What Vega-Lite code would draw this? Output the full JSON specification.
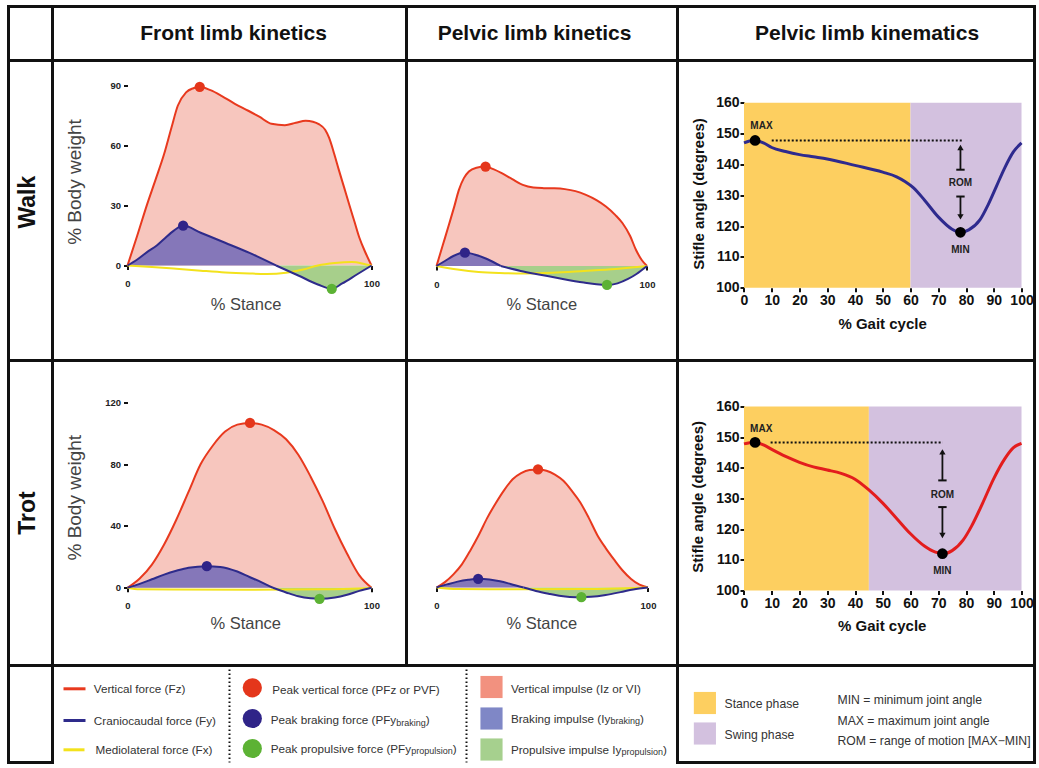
{
"$schema":"https://vega.github.io/schema/vega-lite/v6.json",
"padding":{"left":6.5,"top":4.5,"right":0,"bottom":0},
"background":"white",
"config":{"font":"Liberation Sans","view":{"stroke":"#111","strokeWidth":3},
 "axis":{"grid":false,"domain":false,"labelFont":"Liberation Sans","titleFont":"Liberation Sans","labelFlush":false,"labelOverlap":false,"labelBound":false,"tickColor":"#111","tickWidth":2}},
"datasets":{
"kin":[
{"p":"fw","f":"Fz","s":"z","x":0,"y":0},{"p":"fw","f":"Fz","s":"z","x":4,"y":15},{"p":"fw","f":"Fz","s":"z","x":8,"y":30.5},{"p":"fw","f":"Fz","s":"z","x":11.5,"y":43},{"p":"fw","f":"Fz","s":"z","x":15,"y":55.8},{"p":"fw","f":"Fz","s":"z","x":18,"y":69},{"p":"fw","f":"Fz","s":"z","x":20.6,"y":80},{"p":"fw","f":"Fz","s":"z","x":24,"y":86.7},{"p":"fw","f":"Fz","s":"z","x":27,"y":88.8},{"p":"fw","f":"Fz","s":"z","x":29.6,"y":89.5},{"p":"fw","f":"Fz","s":"z","x":34,"y":87.8},{"p":"fw","f":"Fz","s":"z","x":38.5,"y":85},{"p":"fw","f":"Fz","s":"z","x":44,"y":81},{"p":"fw","f":"Fz","s":"z","x":49.5,"y":77.5},{"p":"fw","f":"Fz","s":"z","x":54,"y":74.5},{"p":"fw","f":"Fz","s":"z","x":59,"y":71},{"p":"fw","f":"Fz","s":"z","x":64.5,"y":70.3},{"p":"fw","f":"Fz","s":"z","x":69,"y":71.5},{"p":"fw","f":"Fz","s":"z","x":73,"y":72.5},{"p":"fw","f":"Fz","s":"z","x":76,"y":72},{"p":"fw","f":"Fz","s":"z","x":78.4,"y":70.8},{"p":"fw","f":"Fz","s":"z","x":81,"y":68},{"p":"fw","f":"Fz","s":"z","x":82.6,"y":64},{"p":"fw","f":"Fz","s":"z","x":84.7,"y":56},{"p":"fw","f":"Fz","s":"z","x":86.7,"y":47.5},{"p":"fw","f":"Fz","s":"z","x":88.8,"y":39},{"p":"fw","f":"Fz","s":"z","x":90.8,"y":30.8},{"p":"fw","f":"Fz","s":"z","x":93,"y":22},{"p":"fw","f":"Fz","s":"z","x":95,"y":14},{"p":"fw","f":"Fz","s":"z","x":97.5,"y":6.5},{"p":"fw","f":"Fz","s":"z","x":100,"y":0},
{"p":"fw","f":"Fy","s":"b","x":0,"y":0},{"p":"fw","f":"Fy","s":"b","x":4,"y":3},{"p":"fw","f":"Fy","s":"b","x":8,"y":6.7},{"p":"fw","f":"Fy","s":"b","x":12,"y":10},{"p":"fw","f":"Fy","s":"b","x":15,"y":13.3},{"p":"fw","f":"Fy","s":"b","x":19,"y":17.5},{"p":"fw","f":"Fy","s":"b","x":22.8,"y":20},{"p":"fw","f":"Fy","s":"b","x":30,"y":16.4},{"p":"fw","f":"Fy","s":"b","x":40,"y":11.4},{"p":"fw","f":"Fy","s":"b","x":50,"y":6.3},{"p":"fw","f":"Fy","s":"b","x":60.9,"y":0},
{"p":"fw","f":"Fy","s":"p","x":60.9,"y":0},{"p":"fw","f":"Fy","s":"p","x":70,"y":-5},{"p":"fw","f":"Fy","s":"p","x":78,"y":-9.5},{"p":"fw","f":"Fy","s":"p","x":83.7,"y":-11.7},{"p":"fw","f":"Fy","s":"p","x":88,"y":-9},{"p":"fw","f":"Fy","s":"p","x":94,"y":-4.5},{"p":"fw","f":"Fy","s":"p","x":100,"y":0},
{"p":"fw","f":"Fx","s":"x","x":0,"y":0},{"p":"fw","f":"Fx","s":"x","x":10,"y":-0.7},{"p":"fw","f":"Fx","s":"x","x":20,"y":-1.6},{"p":"fw","f":"Fx","s":"x","x":30,"y":-2.6},{"p":"fw","f":"Fx","s":"x","x":40,"y":-3.5},{"p":"fw","f":"Fx","s":"x","x":50,"y":-4},{"p":"fw","f":"Fx","s":"x","x":57,"y":-4.2},{"p":"fw","f":"Fx","s":"x","x":65,"y":-3.6},{"p":"fw","f":"Fx","s":"x","x":72,"y":-2},{"p":"fw","f":"Fx","s":"x","x":78,"y":0},{"p":"fw","f":"Fx","s":"x","x":85,"y":1.2},{"p":"fw","f":"Fx","s":"x","x":92,"y":1.7},{"p":"fw","f":"Fx","s":"x","x":97,"y":0.8},{"p":"fw","f":"Fx","s":"x","x":100,"y":0},
{"p":"pw","f":"Fz","s":"z","x":0,"y":0},{"p":"pw","f":"Fz","s":"z","x":3,"y":10.5},{"p":"pw","f":"Fz","s":"z","x":6,"y":21},{"p":"pw","f":"Fz","s":"z","x":8.5,"y":30},{"p":"pw","f":"Fz","s":"z","x":10.6,"y":38},{"p":"pw","f":"Fz","s":"z","x":13,"y":44},{"p":"pw","f":"Fz","s":"z","x":15.4,"y":47.3},{"p":"pw","f":"Fz","s":"z","x":19,"y":49.2},{"p":"pw","f":"Fz","s":"z","x":23.3,"y":49.8},{"p":"pw","f":"Fz","s":"z","x":27,"y":48.5},{"p":"pw","f":"Fz","s":"z","x":31,"y":46.5},{"p":"pw","f":"Fz","s":"z","x":36,"y":43.5},{"p":"pw","f":"Fz","s":"z","x":41,"y":40.6},{"p":"pw","f":"Fz","s":"z","x":46,"y":39.3},{"p":"pw","f":"Fz","s":"z","x":51,"y":39},{"p":"pw","f":"Fz","s":"z","x":56,"y":38.9},{"p":"pw","f":"Fz","s":"z","x":61,"y":38.5},{"p":"pw","f":"Fz","s":"z","x":66,"y":37.5},{"p":"pw","f":"Fz","s":"z","x":71,"y":35.6},{"p":"pw","f":"Fz","s":"z","x":76,"y":33},{"p":"pw","f":"Fz","s":"z","x":80.5,"y":29.8},{"p":"pw","f":"Fz","s":"z","x":85,"y":25.5},{"p":"pw","f":"Fz","s":"z","x":88.4,"y":21.4},{"p":"pw","f":"Fz","s":"z","x":92,"y":15},{"p":"pw","f":"Fz","s":"z","x":94.8,"y":8},{"p":"pw","f":"Fz","s":"z","x":97.5,"y":3},{"p":"pw","f":"Fz","s":"z","x":100,"y":0},
{"p":"pw","f":"Fy","s":"b","x":0,"y":0},{"p":"pw","f":"Fy","s":"b","x":4,"y":2.5},{"p":"pw","f":"Fy","s":"b","x":8,"y":5},{"p":"pw","f":"Fy","s":"b","x":13.5,"y":6.7},{"p":"pw","f":"Fy","s":"b","x":18,"y":5.8},{"p":"pw","f":"Fy","s":"b","x":24,"y":3.5},{"p":"pw","f":"Fy","s":"b","x":30.5,"y":0},
{"p":"pw","f":"Fy","s":"p","x":30.5,"y":0},{"p":"pw","f":"Fy","s":"p","x":40,"y":-2.5},{"p":"pw","f":"Fy","s":"p","x":50,"y":-4.5},{"p":"pw","f":"Fy","s":"p","x":60,"y":-6.5},{"p":"pw","f":"Fy","s":"p","x":70,"y":-8.3},{"p":"pw","f":"Fy","s":"p","x":76,"y":-9.2},{"p":"pw","f":"Fy","s":"p","x":81,"y":-9.5},{"p":"pw","f":"Fy","s":"p","x":86,"y":-8.7},{"p":"pw","f":"Fy","s":"p","x":91,"y":-6.5},{"p":"pw","f":"Fy","s":"p","x":95,"y":-4},{"p":"pw","f":"Fy","s":"p","x":100,"y":0},
{"p":"pw","f":"Fx","s":"x","x":0,"y":0},{"p":"pw","f":"Fx","s":"x","x":10,"y":-1.8},{"p":"pw","f":"Fx","s":"x","x":20,"y":-3},{"p":"pw","f":"Fx","s":"x","x":30,"y":-3.5},{"p":"pw","f":"Fx","s":"x","x":42,"y":-3.7},{"p":"pw","f":"Fx","s":"x","x":55,"y":-3.4},{"p":"pw","f":"Fx","s":"x","x":70,"y":-2.5},{"p":"pw","f":"Fx","s":"x","x":85,"y":-1.5},{"p":"pw","f":"Fx","s":"x","x":100,"y":0},
{"p":"ft","f":"Fz","s":"z","x":0,"y":0},{"p":"ft","f":"Fz","s":"z","x":5,"y":6},{"p":"ft","f":"Fz","s":"z","x":10,"y":15},{"p":"ft","f":"Fz","s":"z","x":15,"y":28},{"p":"ft","f":"Fz","s":"z","x":20,"y":44},{"p":"ft","f":"Fz","s":"z","x":25,"y":62},{"p":"ft","f":"Fz","s":"z","x":30,"y":80},{"p":"ft","f":"Fz","s":"z","x":35,"y":92},{"p":"ft","f":"Fz","s":"z","x":40,"y":101},{"p":"ft","f":"Fz","s":"z","x":45,"y":105.5},{"p":"ft","f":"Fz","s":"z","x":50,"y":106.6},{"p":"ft","f":"Fz","s":"z","x":55,"y":105.5},{"p":"ft","f":"Fz","s":"z","x":60,"y":102},{"p":"ft","f":"Fz","s":"z","x":65,"y":96},{"p":"ft","f":"Fz","s":"z","x":70,"y":86},{"p":"ft","f":"Fz","s":"z","x":75,"y":72},{"p":"ft","f":"Fz","s":"z","x":80,"y":56},{"p":"ft","f":"Fz","s":"z","x":85,"y":38},{"p":"ft","f":"Fz","s":"z","x":90,"y":22},{"p":"ft","f":"Fz","s":"z","x":95,"y":8},{"p":"ft","f":"Fz","s":"z","x":100,"y":0},
{"p":"ft","f":"Fy","s":"b","x":0,"y":0},{"p":"ft","f":"Fy","s":"b","x":5,"y":2.5},{"p":"ft","f":"Fy","s":"b","x":10,"y":5.5},{"p":"ft","f":"Fy","s":"b","x":15,"y":8.5},{"p":"ft","f":"Fy","s":"b","x":20,"y":11},{"p":"ft","f":"Fy","s":"b","x":25,"y":13},{"p":"ft","f":"Fy","s":"b","x":32.5,"y":14},{"p":"ft","f":"Fy","s":"b","x":38,"y":13.5},{"p":"ft","f":"Fy","s":"b","x":45,"y":10.5},{"p":"ft","f":"Fy","s":"b","x":50,"y":7},{"p":"ft","f":"Fy","s":"b","x":55,"y":3.5},{"p":"ft","f":"Fy","s":"b","x":59.6,"y":0},
{"p":"ft","f":"Fy","s":"p","x":59.6,"y":0},{"p":"ft","f":"Fy","s":"p","x":65,"y":-3},{"p":"ft","f":"Fy","s":"p","x":70,"y":-5.5},{"p":"ft","f":"Fy","s":"p","x":75,"y":-6.8},{"p":"ft","f":"Fy","s":"p","x":78.7,"y":-7.1},{"p":"ft","f":"Fy","s":"p","x":85,"y":-6.3},{"p":"ft","f":"Fy","s":"p","x":90,"y":-4.5},{"p":"ft","f":"Fy","s":"p","x":95,"y":-2},{"p":"ft","f":"Fy","s":"p","x":100,"y":0},
{"p":"ft","f":"Fx","s":"x","x":0,"y":0},{"p":"ft","f":"Fx","s":"x","x":5,"y":-1},{"p":"ft","f":"Fx","s":"x","x":50,"y":-1.2},{"p":"ft","f":"Fx","s":"x","x":80,"y":-1},{"p":"ft","f":"Fx","s":"x","x":95,"y":-0.5},{"p":"ft","f":"Fx","s":"x","x":100,"y":0},
{"p":"pt","f":"Fz","s":"z","x":0,"y":0},{"p":"pt","f":"Fz","s":"z","x":4,"y":3.5},{"p":"pt","f":"Fz","s":"z","x":8,"y":8.5},{"p":"pt","f":"Fz","s":"z","x":12,"y":15},{"p":"pt","f":"Fz","s":"z","x":16,"y":24},{"p":"pt","f":"Fz","s":"z","x":20,"y":34},{"p":"pt","f":"Fz","s":"z","x":24,"y":45},{"p":"pt","f":"Fz","s":"z","x":28,"y":54.5},{"p":"pt","f":"Fz","s":"z","x":32,"y":63},{"p":"pt","f":"Fz","s":"z","x":36,"y":70},{"p":"pt","f":"Fz","s":"z","x":40,"y":74},{"p":"pt","f":"Fz","s":"z","x":44,"y":76},{"p":"pt","f":"Fz","s":"z","x":48,"y":76.3},{"p":"pt","f":"Fz","s":"z","x":52,"y":75.5},{"p":"pt","f":"Fz","s":"z","x":56,"y":73},{"p":"pt","f":"Fz","s":"z","x":60,"y":69},{"p":"pt","f":"Fz","s":"z","x":64,"y":62.5},{"p":"pt","f":"Fz","s":"z","x":68,"y":55},{"p":"pt","f":"Fz","s":"z","x":72,"y":45},{"p":"pt","f":"Fz","s":"z","x":76,"y":34},{"p":"pt","f":"Fz","s":"z","x":80,"y":25.5},{"p":"pt","f":"Fz","s":"z","x":84,"y":18},{"p":"pt","f":"Fz","s":"z","x":88,"y":11},{"p":"pt","f":"Fz","s":"z","x":92,"y":5.5},{"p":"pt","f":"Fz","s":"z","x":96,"y":1.8},{"p":"pt","f":"Fz","s":"z","x":100,"y":0},
{"p":"pt","f":"Fy","s":"b","x":0,"y":0},{"p":"pt","f":"Fy","s":"b","x":5,"y":2},{"p":"pt","f":"Fy","s":"b","x":10,"y":3.8},{"p":"pt","f":"Fy","s":"b","x":15,"y":5},{"p":"pt","f":"Fy","s":"b","x":19.7,"y":5.6},{"p":"pt","f":"Fy","s":"b","x":25,"y":5.2},{"p":"pt","f":"Fy","s":"b","x":30,"y":4},{"p":"pt","f":"Fy","s":"b","x":35,"y":2.3},{"p":"pt","f":"Fy","s":"b","x":41.2,"y":0},
{"p":"pt","f":"Fy","s":"p","x":41.2,"y":0},{"p":"pt","f":"Fy","s":"p","x":47,"y":-2.2},{"p":"pt","f":"Fy","s":"p","x":53,"y":-4},{"p":"pt","f":"Fy","s":"p","x":58,"y":-5.3},{"p":"pt","f":"Fy","s":"p","x":63,"y":-6.1},{"p":"pt","f":"Fy","s":"p","x":68.5,"y":-6.3},{"p":"pt","f":"Fy","s":"p","x":73,"y":-6},{"p":"pt","f":"Fy","s":"p","x":80,"y":-4.8},{"p":"pt","f":"Fy","s":"p","x":87,"y":-3},{"p":"pt","f":"Fy","s":"p","x":93,"y":-1.3},{"p":"pt","f":"Fy","s":"p","x":100,"y":0},
{"p":"pt","f":"Fx","s":"x","x":0,"y":0},{"p":"pt","f":"Fx","s":"x","x":10,"y":-1},{"p":"pt","f":"Fx","s":"x","x":40,"y":-1.2},{"p":"pt","f":"Fx","s":"x","x":70,"y":-1},{"p":"pt","f":"Fx","s":"x","x":90,"y":-0.5},{"p":"pt","f":"Fx","s":"x","x":100,"y":0}
],
"peaks":[
{"p":"fw","k":"z","x":29.6,"y":89.5},{"p":"fw","k":"b","x":22.8,"y":20},{"p":"fw","k":"p","x":83.7,"y":-11.7},
{"p":"pw","k":"z","x":23.3,"y":49.8},{"p":"pw","k":"b","x":13.5,"y":6.7},{"p":"pw","k":"p","x":81,"y":-9.5},
{"p":"ft","k":"z","x":50.2,"y":106.6},{"p":"ft","k":"b","x":32.5,"y":14},{"p":"ft","k":"p","x":78.7,"y":-7.1},
{"p":"pt","k":"z","x":48,"y":76.3},{"p":"pt","k":"b","x":19.7,"y":5.6},{"p":"pt","k":"p","x":68.5,"y":-6.3}
],
"kc":[
{"g":"w","x":0,"y":147},{"g":"w","x":2,"y":147.6},{"g":"w","x":4,"y":147.8},{"g":"w","x":7,"y":147},{"g":"w","x":10,"y":145.5},{"g":"w","x":15,"y":144.2},{"g":"w","x":20,"y":143.2},{"g":"w","x":25,"y":142.5},{"g":"w","x":30,"y":141.8},{"g":"w","x":40,"y":139.7},{"g":"w","x":50,"y":137.5},{"g":"w","x":55,"y":136},{"g":"w","x":58,"y":134.5},{"g":"w","x":61,"y":132.5},{"g":"w","x":65,"y":128.5},{"g":"w","x":70,"y":123},{"g":"w","x":75,"y":119},{"g":"w","x":78,"y":118},{"g":"w","x":81,"y":118.8},{"g":"w","x":85,"y":122},{"g":"w","x":88,"y":127},{"g":"w","x":91,"y":133},{"g":"w","x":94,"y":139},{"g":"w","x":97,"y":144},{"g":"w","x":100,"y":147},
{"g":"t","x":0,"y":147.8},{"g":"t","x":2,"y":148.2},{"g":"t","x":4,"y":148.3},{"g":"t","x":7,"y":147.5},{"g":"t","x":10,"y":146},{"g":"t","x":15,"y":143.7},{"g":"t","x":20,"y":141.8},{"g":"t","x":25,"y":140.3},{"g":"t","x":30,"y":139.3},{"g":"t","x":35,"y":138.2},{"g":"t","x":40,"y":136.3},{"g":"t","x":45,"y":132.8},{"g":"t","x":50,"y":128.5},{"g":"t","x":55,"y":123.5},{"g":"t","x":60,"y":118.5},{"g":"t","x":65,"y":114.5},{"g":"t","x":69,"y":112.5},{"g":"t","x":72,"y":112},{"g":"t","x":75,"y":113},{"g":"t","x":79,"y":116.5},{"g":"t","x":82,"y":121},{"g":"t","x":86,"y":128.5},{"g":"t","x":90,"y":136.5},{"g":"t","x":94,"y":143},{"g":"t","x":97,"y":146.5},{"g":"t","x":100,"y":148}
],
"ann":[
{"g":"w","k":"dot","x":10,"x2":79,"y":147.8},{"g":"w","k":"vl","x":78,"y":145.5,"y2":138.3},{"g":"w","k":"vl","x":78,"y":129.6,"y2":123},{"g":"w","k":"triangle-up","x":78,"y":145.5},{"g":"w","k":"triangle-down","x":78,"y":123},{"g":"w","k":"bar","x":78,"y":138.3},{"g":"w","k":"bar","x":78,"y":129.6},{"g":"w","k":"pt","x":4,"y":147.8},{"g":"w","k":"pt","x":78,"y":118},{"g":"w","k":"txt","x":6.3,"y":152.6,"t":"MAX"},{"g":"w","k":"txt","x":78,"y":112.3,"t":"MIN"},{"g":"w","k":"txt","x":78,"y":133.9,"t":"ROM"},
{"g":"t","k":"dot","x":9.6,"x2":71.6,"y":148.3},{"g":"t","k":"vl","x":71.5,"y":145.2,"y2":135.9},{"g":"t","k":"vl","x":71.5,"y":127.2,"y2":117.9},{"g":"t","k":"triangle-up","x":71.5,"y":145.2},{"g":"t","k":"triangle-down","x":71.5,"y":117.9},{"g":"t","k":"bar","x":71.5,"y":135.9},{"g":"t","k":"bar","x":71.5,"y":127.2},{"g":"t","k":"pt","x":4,"y":148.3},{"g":"t","k":"pt","x":71.5,"y":112},{"g":"t","k":"txt","x":6.2,"y":152.7,"t":"MAX"},{"g":"t","k":"txt","x":71.5,"y":106.5,"t":"MIN"},{"g":"t","k":"txt","x":71.5,"y":131.2,"t":"ROM"}
],
"phase":[{"g":"w","ph":"st","x":0,"x2":60},{"g":"w","ph":"sw","x":60,"x2":100},{"g":"t","ph":"st","x":0,"x2":45},{"g":"t","ph":"sw","x":45,"x2":100}]
},
"resolve":{"scale":{"color":"independent","fill":"independent","shape":"independent"}},
"columns":4,
"spacing":0,
"bounds":"flush",
"align":"each",
"concat":[
 {"width":44,"height":54,"data":{"values":[{"t":""}]},"mark":{"type":"text"},"encoding":{"text":{"field":"t"},"x":{"datum":0.5,"type":"quantitative","scale":{"domain":[0,1]},"axis":null},"y":{"datum":0.5,"type":"quantitative","scale":{"domain":[0,1]},"axis":null}}},
 {"width":354,"height":54,"data":{"values":[{"t":"Front limb kinetics"}]},"mark":{"type":"text","fontSize":21,"fontWeight":"bold","color":"#111","dx":4,"dy":0,"baseline":"middle"},"encoding":{"text":{"field":"t"},"x":{"datum":0.5,"type":"quantitative","scale":{"domain":[0,1]},"axis":null},"y":{"datum":0.5,"type":"quantitative","scale":{"domain":[0,1]},"axis":null}}},
 {"width":271,"height":54,"data":{"values":[{"t":"Pelvic limb kinetics"}]},"mark":{"type":"text","fontSize":21,"fontWeight":"bold","color":"#111","dx":-7.5,"dy":0,"baseline":"middle"},"encoding":{"text":{"field":"t"},"x":{"datum":0.5,"type":"quantitative","scale":{"domain":[0,1]},"axis":null},"y":{"datum":0.5,"type":"quantitative","scale":{"domain":[0,1]},"axis":null}}},
 {"width":357,"height":54,"data":{"values":[{"t":"Pelvic limb kinematics"}]},"mark":{"type":"text","fontSize":21,"fontWeight":"bold","color":"#111","dx":11,"dy":0,"baseline":"middle"},"encoding":{"text":{"field":"t"},"x":{"datum":0.5,"type":"quantitative","scale":{"domain":[0,1]},"axis":null},"y":{"datum":0.5,"type":"quantitative","scale":{"domain":[0,1]},"axis":null}}},
 {"width":44,"height":300,"data":{"values":[{"t":"Walk"}]},"mark":{"type":"text","fontSize":23,"fontWeight":"bold","color":"#111","angle":270,"dx":8.3,"dy":-3,"baseline":"middle"},"encoding":{"text":{"field":"t"},"x":{"datum":0.5,"type":"quantitative","scale":{"domain":[0,1]},"axis":null},"y":{"datum":0.5,"type":"quantitative","scale":{"domain":[0,1]},"axis":null}}},
 {"width":354,"height":300,"layer":[
  {"data":{"name":"kin"},"transform":[{"filter":"datum.p=='fw' && datum.f=='Fz'"}],"mark":{"type":"area","interpolate":"monotone","color":"#F7C6BE"},
   "encoding":{"x":{"field":"x","type":"quantitative","scale":{"domain":[-30.74,114.34],"nice":false,"zero":false},"axis":{"values":[0,100],"tickCount":2,"labelOverlap":false,"tickSize":4,"labelFontSize":9.5,"labelFontWeight":"bold","labelColor":"#222","labelPadding":9,"offset":-95,"title":"% Stance","titleFontSize":16.5,"titleFontWeight":"normal","titleColor":"#444","titleX":193,"titleY":39,"titleBaseline":"middle"}},
   "y":{"field":"y","type":"quantitative","stack":null,"scale":{"domain":[-47.58,102.67],"nice":false,"zero":false},"axis":{"values":[0,30,60,90],"labelOverlap":false,"tickSize":4,"labelFontSize":9.5,"labelFontWeight":"bold","labelColor":"#222","labelPadding":3,"offset":-75,"title":"% Body weight","titleFontSize":19,"titleFontWeight":"normal","titleColor":"#444","titleX":-53,"titleY":121,"titleBaseline":"middle"}},
   "y2":{"datum":0}}},
  {"data":{"name":"kin"},"transform":[{"filter":"datum.p=='fw' && datum.f=='Fy'"}],"mark":{"type":"area","interpolate":"monotone"},
   "encoding":{"x":{"field":"x","type":"quantitative"},"y":{"field":"y","type":"quantitative","stack":null},"y2":{"datum":0},"fill":{"field":"s","type":"nominal","scale":{"domain":["b","p"],"range":["#8577B9","#A7CF8B"]},"legend":null}}},
  {"data":{"name":"kin"},"transform":[{"filter":"datum.p=='fw' && datum.f=='Fz'"}],"mark":{"type":"line","interpolate":"monotone","color":"#E8391E","strokeWidth":2},
   "encoding":{"x":{"field":"x","type":"quantitative"},"y":{"field":"y","type":"quantitative"}}},
  {"data":{"name":"kin"},"transform":[{"filter":"datum.p=='fw' && datum.f=='Fx'"}],"mark":{"type":"line","interpolate":"monotone","color":"#F3E21C","strokeWidth":2},
   "encoding":{"x":{"field":"x","type":"quantitative"},"y":{"field":"y","type":"quantitative"}}},
  {"data":{"name":"kin"},"transform":[{"filter":"datum.p=='fw' && datum.f=='Fy'"}],"mark":{"type":"line","interpolate":"monotone","color":"#2E2B8B","strokeWidth":2},
   "encoding":{"x":{"field":"x","type":"quantitative"},"y":{"field":"y","type":"quantitative"},"detail":{"field":"s"}}},
  {"mark":{"type":"rule","color":"#111","strokeWidth":2.5},"encoding":{"x":{"datum":0},"x2":{"datum":100},"y":{"datum":0}}},
  {"mark":{"type":"rule","color":"#111","strokeWidth":2},"encoding":{"x":{"datum":0},"y":{"datum":0},"y2":{"datum":90}}},
  {"data":{"name":"peaks"},"transform":[{"filter":"datum.p=='fw'"}],"mark":{"type":"point","filled":true,"opacity":1,"size":105},
   "encoding":{"x":{"field":"x","type":"quantitative"},"y":{"field":"y","type":"quantitative"},"color":{"field":"k","type":"nominal","scale":{"domain":["z","b","p"],"range":["#E4361B","#2F2488","#5CB234"]},"legend":null}}}
 ]},
 {"width":271,"height":300,"layer":[
  {"data":{"name":"kin"},"transform":[{"filter":"datum.p=='pw' && datum.f=='Fz'"}],"mark":{"type":"area","interpolate":"monotone","color":"#F7C6BE"},
   "encoding":{"x":{"field":"x","type":"quantitative","scale":{"domain":[-14.25,114.49],"nice":false,"zero":false},"axis":{"values":[0,100],"tickCount":2,"labelOverlap":false,"tickSize":4,"labelFontSize":9.5,"labelFontWeight":"bold","labelColor":"#222","labelPadding":9,"offset":-94.5,"title":"% Stance","titleFontSize":16.5,"titleFontWeight":"normal","titleColor":"#444","titleX":134.8,"titleY":38.5,"titleBaseline":"middle"}},
   "y":{"field":"y","type":"quantitative","stack":null,"scale":{"domain":[-47.33,102.92],"nice":false,"zero":false},"axis":null},
   "y2":{"datum":0}}},
  {"data":{"name":"kin"},"transform":[{"filter":"datum.p=='pw' && datum.f=='Fy'"}],"mark":{"type":"area","interpolate":"monotone"},
   "encoding":{"x":{"field":"x","type":"quantitative"},"y":{"field":"y","type":"quantitative","stack":null},"y2":{"datum":0},"fill":{"field":"s","type":"nominal","scale":{"domain":["b","p"],"range":["#8577B9","#A7CF8B"]},"legend":null}}},
  {"data":{"name":"kin"},"transform":[{"filter":"datum.p=='pw' && datum.f=='Fz'"}],"mark":{"type":"line","interpolate":"monotone","color":"#E8391E","strokeWidth":2},
   "encoding":{"x":{"field":"x","type":"quantitative"},"y":{"field":"y","type":"quantitative"}}},
  {"data":{"name":"kin"},"transform":[{"filter":"datum.p=='pw' && datum.f=='Fx'"}],"mark":{"type":"line","interpolate":"monotone","color":"#F3E21C","strokeWidth":2},
   "encoding":{"x":{"field":"x","type":"quantitative"},"y":{"field":"y","type":"quantitative"}}},
  {"data":{"name":"kin"},"transform":[{"filter":"datum.p=='pw' && datum.f=='Fy'"}],"mark":{"type":"line","interpolate":"monotone","color":"#2E2B8B","strokeWidth":2},
   "encoding":{"x":{"field":"x","type":"quantitative"},"y":{"field":"y","type":"quantitative"},"detail":{"field":"s"}}},
  {"mark":{"type":"rule","color":"#111","strokeWidth":2.5},"encoding":{"x":{"datum":0},"x2":{"datum":100},"y":{"datum":0}}},
  {"data":{"name":"peaks"},"transform":[{"filter":"datum.p=='pw'"}],"mark":{"type":"point","filled":true,"opacity":1,"size":105},
   "encoding":{"x":{"field":"x","type":"quantitative"},"y":{"field":"y","type":"quantitative"},"color":{"field":"k","type":"nominal","scale":{"domain":["z","b","p"],"range":["#E4361B","#2F2488","#5CB234"]},"legend":null}}}
 ]},
 {"width":357,"height":300,"layer":[
  {"data":{"name":"phase"},"transform":[{"filter":"datum.g=='w'"}],"mark":{"type":"rect"},
   "encoding":{"x":{"field":"x","type":"quantitative","scale":{"domain":[-23.96,104.68],"nice":false,"zero":false},"axis":{"values":[0,10,20,30,40,50,60,70,80,90,100],"tickCount":11,"labelOverlap":false,"labelSeparation":0,"zindex":1,"tickSize":4,"labelFontSize":14,"labelFontWeight":"bold","labelColor":"#111","labelPadding":2,"offset":-72.7,"title":"% Gait cycle","titleFontSize":15,"titleFontWeight":"bold","titleColor":"#111","titleX":204.6,"titleY":35.4,"titleBaseline":"middle"}},
   "x2":{"field":"x2"},
   "y":{"datum":100,"type":"quantitative","scale":{"domain":[76.42,173.72],"nice":false,"zero":false},"axis":{"values":[100,110,120,130,140,150,160],"tickCount":7,"labelOverlap":false,"tickSize":4,"labelFontSize":14,"labelFontWeight":"bold","labelColor":"#111","labelPadding":1,"offset":-66.5,"title":"Stifle angle (degrees)","titleFontSize":15,"titleFontWeight":"bold","titleColor":"#111","titleX":-45.5,"titleY":133,"titleBaseline":"middle"}},
   "y2":{"datum":160},
   "color":{"field":"ph","type":"nominal","scale":{"domain":["st","sw"],"range":["#FDCF60","#D3C1DF"]},"legend":null}}},
  {"data":{"name":"kc"},"transform":[{"filter":"datum.g=='w'"}],"mark":{"type":"line","interpolate":"monotone","color":"#2E2A8E","strokeWidth":3},
   "encoding":{"x":{"field":"x","type":"quantitative"},"y":{"field":"y","type":"quantitative"}}},
  {"mark":{"type":"rule","color":"#111","strokeWidth":2.5},"encoding":{"x":{"datum":0},"y":{"datum":100},"y2":{"datum":160}}},
  {"mark":{"type":"rule","color":"#111","strokeWidth":2.5},"encoding":{"x":{"datum":0},"x2":{"datum":100},"y":{"datum":100}}},
  {"data":{"name":"ann"},"transform":[{"filter":"datum.g=='w' && datum.k=='dot'"}],"mark":{"type":"rule","color":"#111","strokeWidth":2,"strokeDash":[2,2]},
   "encoding":{"x":{"field":"x","type":"quantitative"},"x2":{"field":"x2"},"y":{"field":"y","type":"quantitative"}}},
  {"data":{"name":"ann"},"transform":[{"filter":"datum.g=='w' && datum.k=='vl'"}],"mark":{"type":"rule","color":"#111","strokeWidth":1.8},
   "encoding":{"x":{"field":"x","type":"quantitative"},"y":{"field":"y","type":"quantitative"},"y2":{"field":"y2"}}},
  {"data":{"name":"ann"},"transform":[{"filter":"datum.g=='w' && (datum.k=='triangle-up' || datum.k=='triangle-down')"}],"mark":{"type":"point","filled":true,"opacity":1,"size":40,"color":"#111"},
   "encoding":{"x":{"field":"x","type":"quantitative"},"y":{"field":"y","type":"quantitative"},"shape":{"field":"k","type":"nominal","scale":{"domain":["triangle-up","triangle-down"],"range":["triangle-up","triangle-down"]},"legend":null}}},
  {"data":{"name":"ann"},"transform":[{"filter":"datum.g=='w' && datum.k=='bar'"}],"mark":{"type":"point","shape":"stroke","filled":false,"opacity":1,"size":70,"color":"#111","strokeWidth":2},
   "encoding":{"x":{"field":"x","type":"quantitative"},"y":{"field":"y","type":"quantitative"}}},
  {"data":{"name":"ann"},"transform":[{"filter":"datum.g=='w' && datum.k=='pt'"}],"mark":{"type":"point","filled":true,"opacity":1,"size":115,"color":"#000"},
   "encoding":{"x":{"field":"x","type":"quantitative"},"y":{"field":"y","type":"quantitative"}}},
  {"data":{"name":"ann"},"transform":[{"filter":"datum.g=='w' && datum.k=='txt'"}],"mark":{"type":"text","fontSize":10,"fontWeight":"bold","color":"#222","baseline":"middle"},
   "encoding":{"x":{"field":"x","type":"quantitative"},"y":{"field":"y","type":"quantitative"},"text":{"field":"t"}}}
 ]},
 {"width":44,"height":305,"data":{"values":[{"t":"Trot"}]},"mark":{"type":"text","fontSize":23,"fontWeight":"bold","color":"#111","angle":270,"dx":0,"dy":-3,"baseline":"middle"},"encoding":{"text":{"field":"t"},"x":{"datum":0.5,"type":"quantitative","scale":{"domain":[0,1]},"axis":null},"y":{"datum":0.5,"type":"quantitative","scale":{"domain":[0,1]},"axis":null}}},
 {"width":354,"height":305,"layer":[
  {"data":{"name":"kin"},"transform":[{"filter":"datum.p=='ft' && datum.f=='Fz'"}],"mark":{"type":"area","interpolate":"monotone","color":"#F7C6BE"},
   "encoding":{"x":{"field":"x","type":"quantitative","scale":{"domain":[-30.74,114.34],"nice":false,"zero":false},"axis":{"values":[0,100],"tickCount":2,"labelOverlap":false,"tickSize":4,"labelFontSize":9.5,"labelFontWeight":"bold","labelColor":"#222","labelPadding":9,"offset":-77.7,"title":"% Stance","titleFontSize":16.5,"titleFontWeight":"normal","titleColor":"#444","titleX":192.7,"titleY":36,"titleBaseline":"middle"}},
   "y":{"field":"y","type":"quantitative","stack":null,"scale":{"domain":[-50.24,146.96],"nice":false,"zero":false},"axis":{"values":[0,40,80,120],"labelOverlap":false,"tickSize":4,"labelFontSize":9.5,"labelFontWeight":"bold","labelColor":"#222","labelPadding":3,"offset":-75,"title":"% Body weight","titleFontSize":19,"titleFontWeight":"normal","titleColor":"#444","titleX":-53,"titleY":136.7,"titleBaseline":"middle"}},
   "y2":{"datum":0}}},
  {"data":{"name":"kin"},"transform":[{"filter":"datum.p=='ft' && datum.f=='Fy'"}],"mark":{"type":"area","interpolate":"monotone"},
   "encoding":{"x":{"field":"x","type":"quantitative"},"y":{"field":"y","type":"quantitative","stack":null},"y2":{"datum":0},"fill":{"field":"s","type":"nominal","scale":{"domain":["b","p"],"range":["#8577B9","#A7CF8B"]},"legend":null}}},
  {"data":{"name":"kin"},"transform":[{"filter":"datum.p=='ft' && datum.f=='Fz'"}],"mark":{"type":"line","interpolate":"monotone","color":"#E8391E","strokeWidth":2},
   "encoding":{"x":{"field":"x","type":"quantitative"},"y":{"field":"y","type":"quantitative"}}},
  {"data":{"name":"kin"},"transform":[{"filter":"datum.p=='ft' && datum.f=='Fx'"}],"mark":{"type":"line","interpolate":"monotone","color":"#F3E21C","strokeWidth":2},
   "encoding":{"x":{"field":"x","type":"quantitative"},"y":{"field":"y","type":"quantitative"}}},
  {"data":{"name":"kin"},"transform":[{"filter":"datum.p=='ft' && datum.f=='Fy'"}],"mark":{"type":"line","interpolate":"monotone","color":"#2E2B8B","strokeWidth":2},
   "encoding":{"x":{"field":"x","type":"quantitative"},"y":{"field":"y","type":"quantitative"},"detail":{"field":"s"}}},
  {"mark":{"type":"rule","color":"#111","strokeWidth":2.5},"encoding":{"x":{"datum":0},"x2":{"datum":100},"y":{"datum":0}}},
  {"mark":{"type":"rule","color":"#111","strokeWidth":2},"encoding":{"x":{"datum":0},"y":{"datum":0},"y2":{"datum":120}}},
  {"data":{"name":"peaks"},"transform":[{"filter":"datum.p=='ft'"}],"mark":{"type":"point","filled":true,"opacity":1,"size":105},
   "encoding":{"x":{"field":"x","type":"quantitative"},"y":{"field":"y","type":"quantitative"},"color":{"field":"k","type":"nominal","scale":{"domain":["z","b","p"],"range":["#E4361B","#2F2488","#5CB234"]},"legend":null}}}
 ]},
 {"width":271,"height":305,"layer":[
  {"data":{"name":"kin"},"transform":[{"filter":"datum.p=='pt' && datum.f=='Fz'"}],"mark":{"type":"area","interpolate":"monotone","color":"#F7C6BE"},
   "encoding":{"x":{"field":"x","type":"quantitative","scale":{"domain":[-14.18,113.95],"nice":false,"zero":false},"axis":{"values":[0,100],"tickCount":2,"labelOverlap":false,"tickSize":4,"labelFontSize":9.5,"labelFontWeight":"bold","labelColor":"#222","labelPadding":9,"offset":-78,"title":"% Stance","titleFontSize":16.5,"titleFontWeight":"normal","titleColor":"#444","titleX":134.8,"titleY":36.3,"titleBaseline":"middle"}},
   "y":{"field":"y","type":"quantitative","stack":null,"scale":{"domain":[-50.43,146.77],"nice":false,"zero":false},"axis":null},
   "y2":{"datum":0}}},
  {"data":{"name":"kin"},"transform":[{"filter":"datum.p=='pt' && datum.f=='Fy'"}],"mark":{"type":"area","interpolate":"monotone"},
   "encoding":{"x":{"field":"x","type":"quantitative"},"y":{"field":"y","type":"quantitative","stack":null},"y2":{"datum":0},"fill":{"field":"s","type":"nominal","scale":{"domain":["b","p"],"range":["#8577B9","#A7CF8B"]},"legend":null}}},
  {"data":{"name":"kin"},"transform":[{"filter":"datum.p=='pt' && datum.f=='Fz'"}],"mark":{"type":"line","interpolate":"monotone","color":"#E8391E","strokeWidth":2},
   "encoding":{"x":{"field":"x","type":"quantitative"},"y":{"field":"y","type":"quantitative"}}},
  {"data":{"name":"kin"},"transform":[{"filter":"datum.p=='pt' && datum.f=='Fx'"}],"mark":{"type":"line","interpolate":"monotone","color":"#F3E21C","strokeWidth":2},
   "encoding":{"x":{"field":"x","type":"quantitative"},"y":{"field":"y","type":"quantitative"}}},
  {"data":{"name":"kin"},"transform":[{"filter":"datum.p=='pt' && datum.f=='Fy'"}],"mark":{"type":"line","interpolate":"monotone","color":"#2E2B8B","strokeWidth":2},
   "encoding":{"x":{"field":"x","type":"quantitative"},"y":{"field":"y","type":"quantitative"},"detail":{"field":"s"}}},
  {"mark":{"type":"rule","color":"#111","strokeWidth":2.5},"encoding":{"x":{"datum":0},"x2":{"datum":100},"y":{"datum":0}}},
  {"data":{"name":"peaks"},"transform":[{"filter":"datum.p=='pt'"}],"mark":{"type":"point","filled":true,"opacity":1,"size":105},
   "encoding":{"x":{"field":"x","type":"quantitative"},"y":{"field":"y","type":"quantitative"},"color":{"field":"k","type":"nominal","scale":{"domain":["z","b","p"],"range":["#E4361B","#2F2488","#5CB234"]},"legend":null}}}
 ]},
 {"width":357,"height":305,"layer":[
  {"data":{"name":"phase"},"transform":[{"filter":"datum.g=='t'"}],"mark":{"type":"rect"},
   "encoding":{"x":{"field":"x","type":"quantitative","scale":{"domain":[-23.96,104.68],"nice":false,"zero":false},"axis":{"values":[0,10,20,30,40,50,60,70,80,90,100],"tickCount":11,"labelOverlap":false,"labelSeparation":0,"zindex":1,"tickSize":4,"labelFontSize":14,"labelFontWeight":"bold","labelColor":"#111","labelPadding":2,"offset":-75,"title":"% Gait cycle","titleFontSize":15,"titleFontWeight":"bold","titleColor":"#111","titleX":204.2,"titleY":35,"titleBaseline":"middle"}},
   "x2":{"field":"x2"},
   "y":{"datum":100,"type":"quantitative","scale":{"domain":[75.54,175.0],"nice":false,"zero":false},"axis":{"values":[100,110,120,130,140,150,160],"tickCount":7,"labelOverlap":false,"tickSize":4,"labelFontSize":14,"labelFontWeight":"bold","labelColor":"#111","labelPadding":1,"offset":-66.5,"title":"Stifle angle (degrees)","titleFontSize":15,"titleFontWeight":"bold","titleColor":"#111","titleX":-46.2,"titleY":135.8,"titleBaseline":"middle"}},
   "y2":{"datum":160},
   "color":{"field":"ph","type":"nominal","scale":{"domain":["st","sw"],"range":["#FDCF60","#D3C1DF"]},"legend":null}}},
  {"data":{"name":"kc"},"transform":[{"filter":"datum.g=='t'"}],"mark":{"type":"line","interpolate":"monotone","color":"#E31D1D","strokeWidth":3},
   "encoding":{"x":{"field":"x","type":"quantitative"},"y":{"field":"y","type":"quantitative"}}},
  {"mark":{"type":"rule","color":"#111","strokeWidth":2.5},"encoding":{"x":{"datum":0},"y":{"datum":100},"y2":{"datum":160}}},
  {"mark":{"type":"rule","color":"#111","strokeWidth":2.5},"encoding":{"x":{"datum":0},"x2":{"datum":100},"y":{"datum":100}}},
  {"data":{"name":"ann"},"transform":[{"filter":"datum.g=='t' && datum.k=='dot'"}],"mark":{"type":"rule","color":"#111","strokeWidth":2,"strokeDash":[2,2]},
   "encoding":{"x":{"field":"x","type":"quantitative"},"x2":{"field":"x2"},"y":{"field":"y","type":"quantitative"}}},
  {"data":{"name":"ann"},"transform":[{"filter":"datum.g=='t' && datum.k=='vl'"}],"mark":{"type":"rule","color":"#111","strokeWidth":1.8},
   "encoding":{"x":{"field":"x","type":"quantitative"},"y":{"field":"y","type":"quantitative"},"y2":{"field":"y2"}}},
  {"data":{"name":"ann"},"transform":[{"filter":"datum.g=='t' && (datum.k=='triangle-up' || datum.k=='triangle-down')"}],"mark":{"type":"point","filled":true,"opacity":1,"size":40,"color":"#111"},
   "encoding":{"x":{"field":"x","type":"quantitative"},"y":{"field":"y","type":"quantitative"},"shape":{"field":"k","type":"nominal","scale":{"domain":["triangle-up","triangle-down"],"range":["triangle-up","triangle-down"]},"legend":null}}},
  {"data":{"name":"ann"},"transform":[{"filter":"datum.g=='t' && datum.k=='bar'"}],"mark":{"type":"point","shape":"stroke","filled":false,"opacity":1,"size":70,"color":"#111","strokeWidth":2},
   "encoding":{"x":{"field":"x","type":"quantitative"},"y":{"field":"y","type":"quantitative"}}},
  {"data":{"name":"ann"},"transform":[{"filter":"datum.g=='t' && datum.k=='pt'"}],"mark":{"type":"point","filled":true,"opacity":1,"size":115,"color":"#000"},
   "encoding":{"x":{"field":"x","type":"quantitative"},"y":{"field":"y","type":"quantitative"}}},
  {"data":{"name":"ann"},"transform":[{"filter":"datum.g=='t' && datum.k=='txt'"}],"mark":{"type":"text","fontSize":10,"fontWeight":"bold","color":"#222","baseline":"middle"},
   "encoding":{"x":{"field":"x","type":"quantitative"},"y":{"field":"y","type":"quantitative"},"text":{"field":"t"}}}
 ]},
 {"width":44,"height":97,"data":{"values":[{"t":""}]},"mark":{"type":"text"},"encoding":{"text":{"field":"t"},"x":{"datum":0.5,"type":"quantitative","scale":{"domain":[0,1]},"axis":null},"y":{"datum":0.5,"type":"quantitative","scale":{"domain":[0,1]},"axis":null}}},
 {"width":354,"height":97,"view":{"stroke":null},"layer":[
  {"data":{"values":[{"x":229}]},"mark":{"type":"rule","color":"#111","strokeWidth":2,"strokeDash":[1.5,2.5]},
   "encoding":{"x":{"field":"x","type":"quantitative","scale":{"domain":[52,406],"nice":false,"zero":false},"axis":null},"y":{"datum":665,"type":"quantitative","scale":{"domain":[665,762],"nice":false,"zero":false,"reverse":true},"axis":null},"y2":{"datum":762}}},
  {"mark":{"type":"rule","color":"#111","strokeWidth":3},"encoding":{"x":{"datum":52,"type":"quantitative","axis":null},"x2":{"datum":406},"y":{"datum":762,"type":"quantitative","axis":null}}},
  {"data":{"values":[{"k":"Fz","x":63,"x2":85,"y":688.3},{"k":"Fy","x":63,"x2":85,"y":720},{"k":"Fx","x":63,"x2":84,"y":749.3}]},"mark":{"type":"rule","strokeWidth":3},
   "encoding":{"x":{"field":"x","type":"quantitative","axis":null},"x2":{"field":"x2"},"y":{"field":"y","type":"quantitative","axis":null},"color":{"field":"k","type":"nominal","scale":{"domain":["Fz","Fy","Fx","PFz","PFyb","PFyp"],"range":["#E8391E","#2E2B8B","#F3E21C","#E4361B","#2F2488","#5CB234"]},"legend":null}}},
  {"data":{"values":[{"k":"PFz","x":251.8,"y":687.3},{"k":"PFyb","x":251.8,"y":718},{"k":"PFyp","x":251.8,"y":748}]},"mark":{"type":"point","filled":true,"opacity":1,"size":370},
   "encoding":{"x":{"field":"x","type":"quantitative","axis":null},"y":{"field":"y","type":"quantitative","axis":null},"color":{"field":"k","type":"nominal","legend":null}}},
  {"data":{"values":[
    {"x":93.3,"y":688.3,"t":"Vertical force (Fz)"},{"x":93.3,"y":720,"t":"Craniocaudal force (Fy)"},{"x":95,"y":749.3,"t":"Mediolateral force (Fx)"},
    {"x":271.7,"y":689,"t":"Peak vertical force (PFz or PVF)"},{"x":270.3,"y":719.7,"t":"Peak braking force (PFy"},{"x":425.3,"y":719.7,"t":")"},{"x":270.3,"y":748,"t":"Peak propulsive force (PFy"},{"x":452.3,"y":748,"t":")"}]},
   "mark":{"type":"text","fontSize":11.7,"color":"#333","align":"left","baseline":"middle"},
   "encoding":{"x":{"field":"x","type":"quantitative","axis":null},"y":{"field":"y","type":"quantitative","axis":null},"text":{"field":"t"}}},
  {"data":{"values":[{"x":395.8,"y":722.3,"t":"braking"},{"x":410.8,"y":750.6,"t":"propulsion"}]},
   "mark":{"type":"text","fontSize":9,"color":"#333","align":"left","baseline":"middle"},
   "encoding":{"x":{"field":"x","type":"quantitative","axis":null},"y":{"field":"y","type":"quantitative","axis":null},"text":{"field":"t"}}}
 ]},
 {"width":271,"height":97,"view":{"stroke":null},"layer":[
  {"data":{"values":[{"x":466}]},"mark":{"type":"rule","color":"#111","strokeWidth":2,"strokeDash":[1.5,2.5]},
   "encoding":{"x":{"field":"x","type":"quantitative","scale":{"domain":[406,677],"nice":false,"zero":false},"axis":null},"y":{"datum":665,"type":"quantitative","scale":{"domain":[665,762],"nice":false,"zero":false,"reverse":true},"axis":null},"y2":{"datum":762}}},
  {"mark":{"type":"rule","color":"#111","strokeWidth":3},"encoding":{"x":{"datum":406,"type":"quantitative","axis":null},"x2":{"datum":677},"y":{"datum":762,"type":"quantitative","axis":null}}},
  {"data":{"values":[{"k":"Iz","x":491,"y":686.5},{"k":"Iyb","x":491,"y":718},{"k":"Iyp","x":491,"y":749}]},"mark":{"type":"point","shape":"square","filled":true,"opacity":1,"size":490},
   "encoding":{"x":{"field":"x","type":"quantitative","axis":null},"y":{"field":"y","type":"quantitative","axis":null},"color":{"field":"k","type":"nominal","scale":{"domain":["Iz","Iyb","Iyp"],"range":["#F2917F","#7F87C6","#A6D08E"]},"legend":null}}},
  {"data":{"values":[
    {"x":510.4,"y":688.3,"t":"Vertical impulse (Iz or VI)"},{"x":510.4,"y":718,"t":"Braking impulse (Iy"},{"x":639.4,"y":718,"t":")"},{"x":510.4,"y":749.3,"t":"Propulsive impulse Iy"},{"x":662.4,"y":749.3,"t":")"}]},
   "mark":{"type":"text","fontSize":11.7,"color":"#333","align":"left","baseline":"middle"},
   "encoding":{"x":{"field":"x","type":"quantitative","axis":null},"y":{"field":"y","type":"quantitative","axis":null},"text":{"field":"t"}}},
  {"data":{"values":[{"x":609.9,"y":720.6,"t":"braking"},{"x":620.9,"y":751.9,"t":"propulsion"}]},
   "mark":{"type":"text","fontSize":9,"color":"#333","align":"left","baseline":"middle"},
   "encoding":{"x":{"field":"x","type":"quantitative","axis":null},"y":{"field":"y","type":"quantitative","axis":null},"text":{"field":"t"}}}
 ]},
 {"width":357,"height":97,"layer":[
  {"data":{"values":[{"k":"st","x":704.4,"y":702.5},{"k":"sw","x":704.4,"y":733}]},"mark":{"type":"point","shape":"square","filled":true,"opacity":1,"size":490},
   "encoding":{"x":{"field":"x","type":"quantitative","scale":{"domain":[677,1034],"nice":false,"zero":false},"axis":null},"y":{"field":"y","type":"quantitative","scale":{"domain":[665,762],"nice":false,"zero":false,"reverse":true},"axis":null},
   "color":{"field":"k","type":"nominal","scale":{"domain":["st","sw"],"range":["#FDCF60","#D3C1DF"]},"legend":null}}},
  {"data":{"values":[{"x":724,"y":703.3,"t":"Stance phase"},{"x":724,"y":734,"t":"Swing phase"},{"x":837,"y":699.3,"t":"MIN = minimum joint angle"},{"x":837,"y":720,"t":"MAX = maximum joint angle"},{"x":837,"y":740.5,"t":"ROM = range of motion [MAX\u2212MIN]"}]},
   "mark":{"type":"text","fontSize":12.2,"color":"#333","align":"left","baseline":"middle"},
   "encoding":{"x":{"field":"x","type":"quantitative","axis":null},"y":{"field":"y","type":"quantitative","axis":null},"text":{"field":"t"}}}
 ]}
]
}
